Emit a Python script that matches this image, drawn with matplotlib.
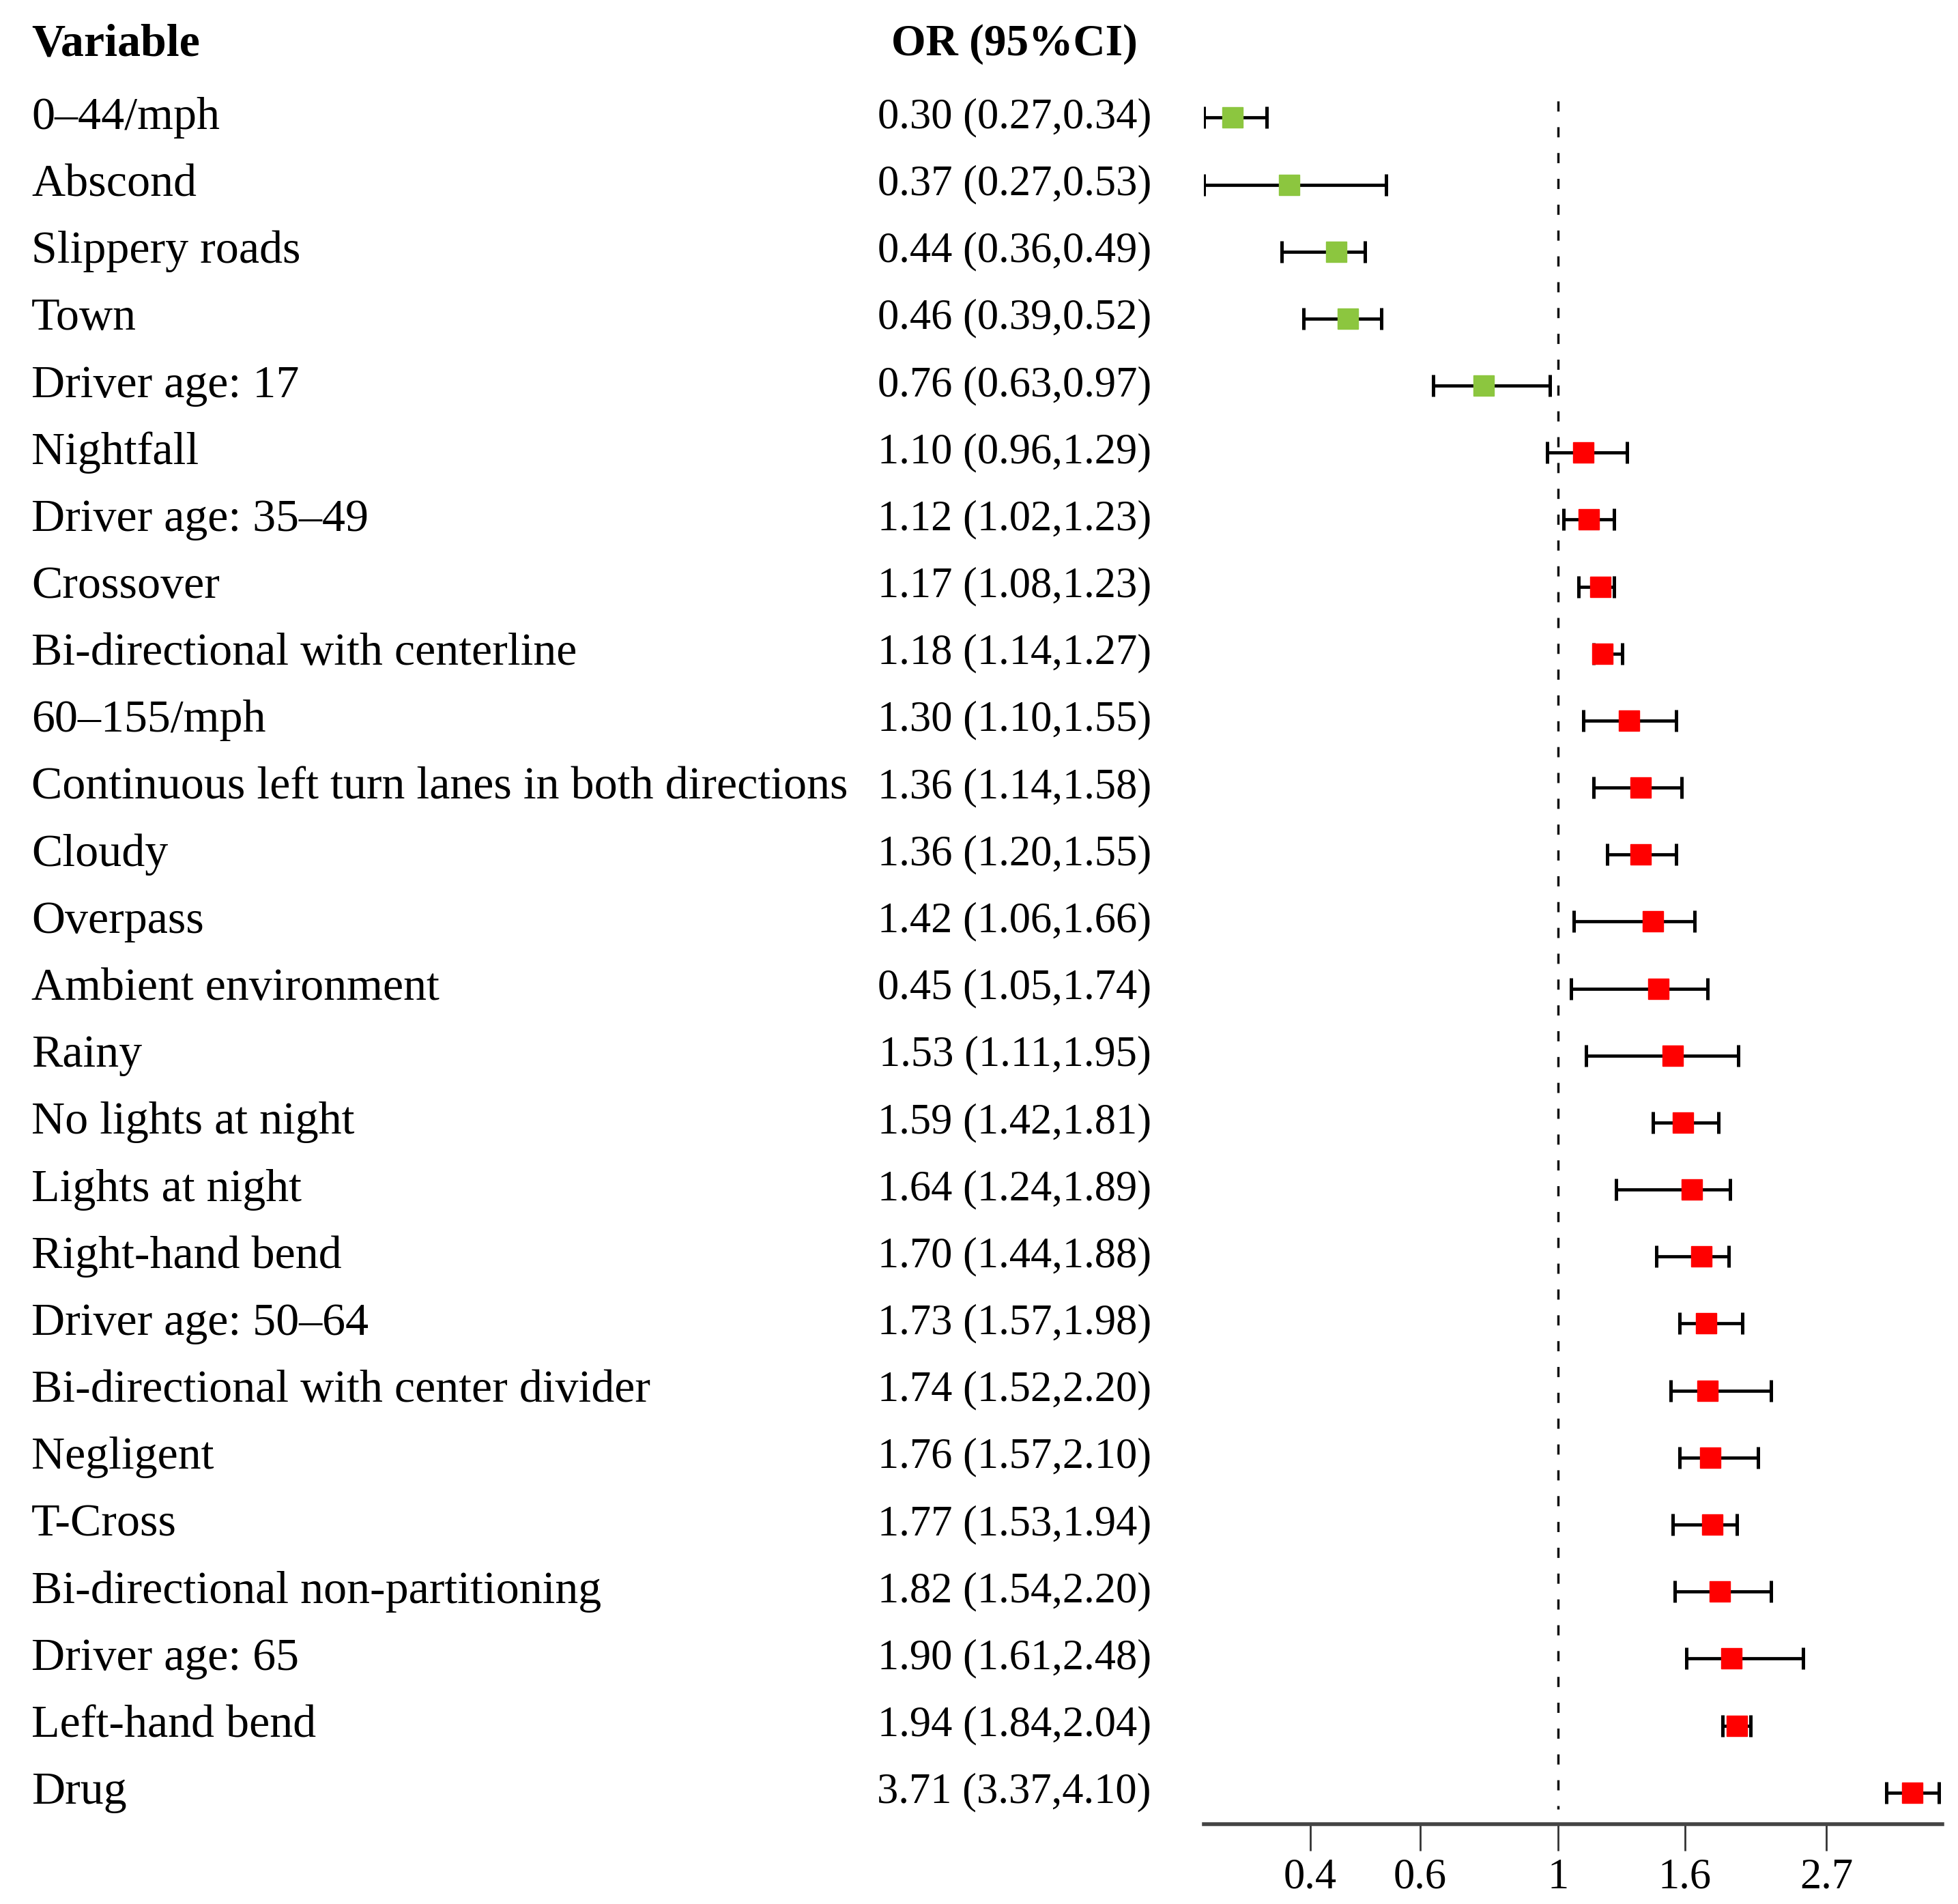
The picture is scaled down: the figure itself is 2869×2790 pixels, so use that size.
import numpy as np
import matplotlib
matplotlib.use("Agg")
import matplotlib.pyplot as plt
from matplotlib.transforms import blended_transform_factory

# rows from top to bottom
variables = [
    "0–44/mph", "Abscond", "Slippery roads", "Town", "Driver age: 17",
    "Nightfall", "Driver age: 35–49", "Crossover", "Bi-directional with centerline",
    "60–155/mph", "Continuous left turn lanes in both directions", "Cloudy",
    "Overpass", "Ambient environment", "Rainy", "No lights at night",
    "Lights at night", "Right-hand bend", "Driver age: 50–64",
    "Bi-directional with center divider", "Negligent", "T-Cross",
    "Bi-directional non-partitioning", "Driver age: 65", "Left-hand bend", "Drug",
]
odds_ratio = [0.30, 0.37, 0.44, 0.46, 0.76, 1.10, 1.12, 1.17, 1.18, 1.30, 1.36, 1.36,
              1.42, 1.45, 1.53, 1.59, 1.64, 1.70, 1.73, 1.74, 1.76, 1.77, 1.82, 1.90,
              1.94, 3.71]
ci_low = [0.27, 0.27, 0.36, 0.39, 0.63, 0.96, 1.02, 1.08, 1.14, 1.10, 1.14, 1.20,
          1.06, 1.05, 1.11, 1.42, 1.24, 1.44, 1.57, 1.52, 1.57, 1.53, 1.54, 1.61,
          1.84, 3.37]
ci_high = [0.34, 0.53, 0.49, 0.52, 0.97, 1.29, 1.23, 1.23, 1.27, 1.55, 1.58, 1.55,
           1.66, 1.74, 1.95, 1.81, 1.89, 1.88, 1.98, 2.20, 2.10, 1.94, 2.20, 2.48,
           2.04, 4.10]
# the printed column, as it appears in the source (incl. its 0.45 entry)
or_text = [
    "0.30 (0.27,0.34)", "0.37 (0.27,0.53)", "0.44 (0.36,0.49)", "0.46 (0.39,0.52)",
    "0.76 (0.63,0.97)", "1.10 (0.96,1.29)", "1.12 (1.02,1.23)", "1.17 (1.08,1.23)",
    "1.18 (1.14,1.27)", "1.30 (1.10,1.55)", "1.36 (1.14,1.58)", "1.36 (1.20,1.55)",
    "1.42 (1.06,1.66)", "0.45 (1.05,1.74)", "1.53 (1.11,1.95)", "1.59 (1.42,1.81)",
    "1.64 (1.24,1.89)", "1.70 (1.44,1.88)", "1.73 (1.57,1.98)", "1.74 (1.52,2.20)",
    "1.76 (1.57,2.10)", "1.77 (1.53,1.94)", "1.82 (1.54,2.20)", "1.90 (1.61,2.48)",
    "1.94 (1.84,2.04)", "3.71 (3.37,4.10)",
]
tick_values = [0.4, 0.6, 1, 1.6, 2.7]
tick_labels = ["0.4", "0.6", "1", "1.6", "2.7"]

GREEN = "#8cc63f"
RED = "#ff0000"
FS_NAME = 49
FS_NUM = 45

plt.rcParams['font.family'] = ['Liberation Serif', 'DejaVu Serif']

fig = plt.figure(figsize=(28.69, 27.90), dpi=100)
ax = fig.add_axes([0.615, 0.042, 0.377, 0.949])

y = np.arange(len(variables))
orr = np.array(odds_ratio)
lo = np.array(ci_low)
hi = np.array(ci_high)

# reference line at OR = 1
ax.plot([1, 1], [-0.25, 25.25], color="#111111", lw=2.5, linestyle=(0, (4.3, 6.6)), zorder=1)

for i in range(len(y)):
    c = GREEN if orr[i] < 1 else RED
    ax.errorbar(orr[i], y[i], xerr=[[orr[i] - lo[i]], [hi[i] - orr[i]]], fmt="s",
                color=c, mec=c, ecolor="black", elinewidth=3.4, capsize=11.5,
                capthick=3.6, markersize=21.5, zorder=3)

ax.set_xscale("log")
ax.set_xlim(0.27, 4.15)
ax.set_ylim(25.47, -1.5)
ax.set_xticks(tick_values)
ax.set_xticklabels(tick_labels)
ax.xaxis.set_minor_locator(matplotlib.ticker.NullLocator())
ax.tick_params(axis="x", length=28, width=2, color="#333333", labelsize=FS_NUM, pad=8)
ax.set_yticks([])
for s in ["left", "right", "top"]:
    ax.spines[s].set_visible(False)
ax.spines["bottom"].set_linewidth(4)
ax.spines["bottom"].set_color("#444444")

tr = blended_transform_factory(fig.transFigure, ax.transData)
ax.text(0.016, -1.09, "Variable", transform=tr, fontsize=FS_NAME, fontweight="bold",
        ha="left", va="center", clip_on=False)
ax.text(0.518, -1.09, "OR (95%CI)", transform=tr, fontsize=FS_NUM + 2, fontweight="bold",
        ha="center", va="center", clip_on=False)
for i in range(len(y)):
    ax.text(0.016, y[i], variables[i], transform=tr, fontsize=FS_NAME, ha="left",
            va="center", clip_on=False)
    ax.text(0.588, y[i], or_text[i], transform=tr, fontsize=FS_NUM, ha="right",
            va="center", clip_on=False)

fig.savefig("out.png", dpi=100)
